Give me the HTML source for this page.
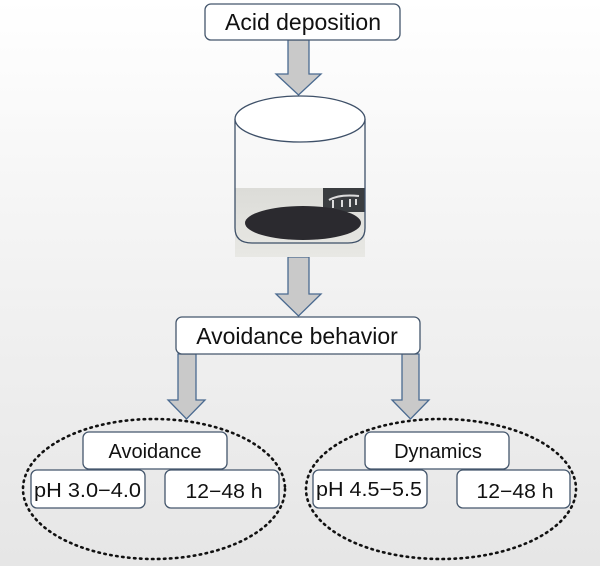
<!DOCTYPE html>
<html><head><meta charset="utf-8"><style>
html,body{margin:0;padding:0}
body{width:600px;height:566px;overflow:hidden;background:linear-gradient(#ffffff 0%,#f4f4f4 40%,#e6e6e6 100%);}
svg{display:block}
text{font-family:"Liberation Sans",Arial,sans-serif;fill:#111}
</style></head><body>
<svg width="600" height="566" viewBox="0 0 600 566" xmlns="http://www.w3.org/2000/svg">
<defs>
<linearGradient id="ph" x1="0" y1="0" x2="0" y2="1"><stop offset="0" stop-color="#dcdcd8"/><stop offset="1" stop-color="#e8e8e4"/></linearGradient>
</defs>
<g stroke="#4a6a90" stroke-width="1.3" fill="#c9c9c9">
<path d="M288 40 V74 H276 L298.5 95 L321 74 H309 V40 Z"/>
<path d="M288 257 V294 H276 L298.5 316 L321 294 H309 V257 Z"/>
<path d="M178 354 V400 H168 L186.5 419 L205 400 H196 V354 Z"/>
<path d="M402 354 V400 H392 L410.5 419 L429 400 H419 V354 Z"/>
</g>
<rect x="205" y="4" width="195" height="36" rx="6" fill="#fff" stroke="#44566c" stroke-width="1.3"/>
<text x="303" y="30" font-size="23" text-anchor="middle">Acid deposition</text>
<rect x="235" y="188" width="130" height="69" fill="url(#ph)"/>
<rect x="323" y="188" width="42" height="24" fill="#3a3d40"/>
<path d="M329 200 q10 -6 30 -4 M333 200 v8 M342 200 v7 M350 199 v8 M356 199 v6" stroke="#ddd" stroke-width="2" fill="none"/>
<ellipse cx="303" cy="223" rx="58" ry="17" fill="#2b2a2f"/>
<path d="M235 119 V228 Q235 243 252 243 H348 Q365 243 365 228 V119" fill="none" stroke="#3e5068" stroke-width="1.3"/>
<ellipse cx="300" cy="119" rx="65" ry="23" fill="#fff" stroke="#3e5068" stroke-width="1.3"/>
<rect x="176" y="317" width="244" height="37" rx="6" fill="#fff" stroke="#44566c" stroke-width="1.3"/>
<text x="297" y="344" font-size="23" text-anchor="middle">Avoidance behavior</text>
<ellipse cx="154" cy="489" rx="131" ry="70" fill="none" stroke="#111" stroke-width="2.6" stroke-dasharray="1.5 4.5" stroke-linecap="round"/>
<ellipse cx="441" cy="489" rx="135" ry="70" fill="none" stroke="#111" stroke-width="2.6" stroke-dasharray="1.5 4.5" stroke-linecap="round"/>
<g fill="#fff" stroke="#44566c" stroke-width="1.3">
<rect x="83" y="432" width="144" height="37" rx="6"/>
<rect x="31" y="470" width="114" height="38" rx="6"/>
<rect x="165" y="470" width="114" height="38" rx="6"/>
<rect x="365" y="432" width="144" height="37" rx="6"/>
<rect x="313" y="470" width="114" height="38" rx="6"/>
<rect x="457" y="470" width="113" height="38" rx="6"/>
</g>
<g font-size="20">
<text x="155" y="458" text-anchor="middle">Avoidance</text>
<text x="34" y="497" textLength="107" lengthAdjust="spacingAndGlyphs">pH 3.0−4.0</text>
<text x="224" y="498" text-anchor="middle" textLength="77" lengthAdjust="spacingAndGlyphs">12−48 h</text>
<text x="438" y="458" text-anchor="middle">Dynamics</text>
<text x="316" y="496" textLength="106" lengthAdjust="spacingAndGlyphs">pH 4.5−5.5</text>
<text x="515" y="498" text-anchor="middle" textLength="77" lengthAdjust="spacingAndGlyphs">12−48 h</text>
</g>
</svg>
</body></html>
